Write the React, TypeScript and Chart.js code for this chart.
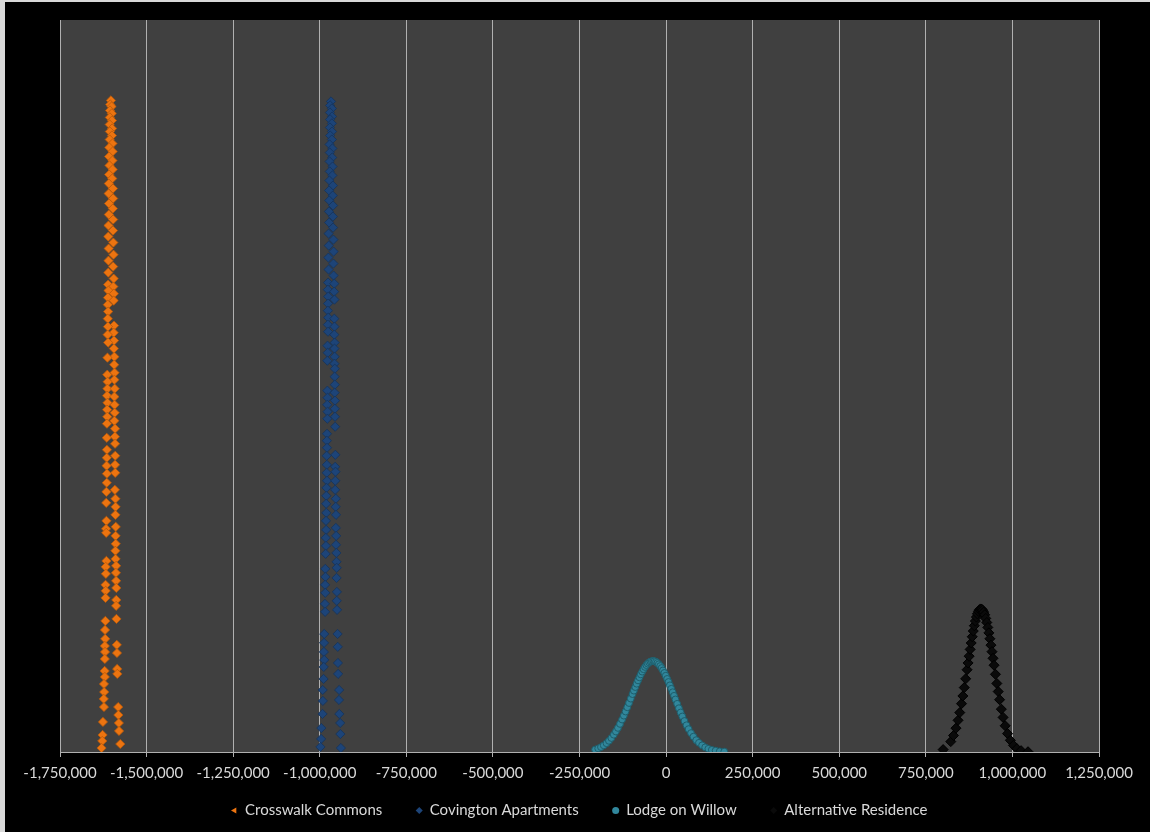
import React, { useEffect, useRef } from "react";
import { Chart, registerables } from "chart.js";

Chart.register(...registerables);

// x: value, y: density (×10⁻⁶)
const seriesNames = ["Crosswalk Commons", "Covington Apartments", "Lodge on Willow", "Alternative Residence"];

const xTickMin = -1750000;
const xTickMax = 1250000;
const xTickStep = 250000;
const yMax = 55;

const crosswalkCommons: [number, number][] = [
  [-1603000, 48.96], [-1605000, 48.65], [-1601000, 48.5], [-1605500, 48.2], [-1600500, 47.98],
  [-1606000, 47.68], [-1600000, 47.45], [-1606500, 47.15], [-1599500, 46.85], [-1606000, 46.62],
  [-1600000, 46.32], [-1606500, 46.02], [-1598500, 45.72], [-1607500, 45.42], [-1598000, 45.12],
  [-1608000, 44.74], [-1598500, 44.44], [-1607000, 44.07], [-1598000, 43.77], [-1608000, 43.39],
  [-1599000, 43.09], [-1609000, 42.71], [-1597000, 42.34], [-1609500, 41.96], [-1596500, 41.59],
  [-1608500, 41.21], [-1597500, 40.83], [-1609000, 40.38], [-1596500, 40.01], [-1610000, 39.56],
  [-1597000, 39.18], [-1610500, 38.73], [-1596000, 38.28], [-1609500, 37.83], [-1595500, 37.37],
  [-1610000, 36.92], [-1596500, 36.47], [-1610500, 36.02], [-1595000, 35.57], [-1611000, 35.12],
  [-1596000, 34.97], [-1610000, 34.67], [-1594500, 34.44], [-1611500, 34.14], [-1595000, 33.92],
  [-1612000, 33.61], [-1611000, 33.09], [-1612000, 32.56], [-1594000, 32.04], [-1611500, 31.96],
  [-1595000, 31.51], [-1612500, 31.36], [-1594000, 30.91], [-1611000, 30.76], [-1594500, 30.31],
  [-1593000, 29.7], [-1613000, 29.63], [-1593500, 29.1], [-1592500, 28.5], [-1613500, 28.35],
  [-1593000, 27.97], [-1612500, 27.82], [-1613000, 27.3], [-1592000, 27.3], [-1614000, 26.77],
  [-1593000, 26.7], [-1613000, 26.24], [-1592500, 26.09], [-1614000, 25.72], [-1592000, 25.49],
  [-1613500, 25.19], [-1593000, 24.89], [-1614500, 24.67], [-1591000, 24.29], [-1591500, 23.69],
  [-1615000, 23.61], [-1591000, 23.16], [-1614500, 22.71], [-1590500, 22.26], [-1615000, 22.11],
  [-1591000, 21.58], [-1615500, 21.51], [-1590500, 20.98], [-1614500, 20.91], [-1615000, 20.23],
  [-1591500, 19.7], [-1616000, 19.55], [-1590000, 19.03], [-1616500, 18.72], [-1589500, 18.42],
  [-1590000, 17.82], [-1616000, 17.37], [-1589000, 16.92], [-1617000, 16.77], [-1616500, 16.47],
  [-1589500, 16.24], [-1589000, 15.64], [-1590000, 15.12], [-1589500, 14.51], [-1616000, 14.36],
  [-1588000, 13.99], [-1618000, 13.91], [-1588500, 13.46], [-1617500, 13.39], [-1588000, 12.86],
  [-1618500, 12.56], [-1587500, 12.33], [-1618000, 12.11], [-1618500, 11.58], [-1587500, 11.43],
  [-1588000, 10.98], [-1587000, 10.0], [-1619000, 9.85], [-1620000, 9.17], [-1619500, 8.5],
  [-1586000, 8.05], [-1620500, 7.97], [-1620000, 7.52], [-1585500, 7.44], [-1620500, 6.99],
  [-1585000, 6.24], [-1621000, 6.09], [-1584500, 5.87], [-1620500, 5.64], [-1623000, 5.11],
  [-1622500, 4.51], [-1623500, 3.99], [-1623000, 3.38], [-1582000, 3.38], [-1581500, 2.78],
  [-1626000, 2.26], [-1580000, 2.18], [-1579500, 1.58], [-1627000, 1.28], [-1628000, 0.83],
  [-1576000, 0.6], [-1630000, 0.3],
];

const covingtonApartments: [number, number][] = [
  [-967500, 48.88], [-970000, 48.58], [-965000, 48.35], [-970500, 48.05], [-964500, 47.75],
  [-970000, 47.53], [-965000, 47.23], [-970500, 46.92], [-964500, 46.62], [-970000, 46.32],
  [-965000, 46.02], [-971500, 45.65], [-963500, 45.35], [-971000, 45.04], [-964000, 44.67],
  [-971500, 44.37], [-963000, 43.99], [-971000, 43.62], [-963500, 43.32], [-972000, 42.94],
  [-962000, 42.56], [-973000, 42.19], [-962500, 41.81], [-972500, 41.44], [-961500, 41.06],
  [-973500, 40.61], [-962000, 40.23], [-973000, 39.78], [-961500, 39.4], [-974500, 38.95],
  [-960500, 38.5], [-974000, 38.05], [-960000, 37.6], [-975000, 37.15], [-960500, 36.7],
  [-974500, 36.25], [-960000, 35.8], [-976000, 35.27], [-958000, 35.19], [-976500, 34.74],
  [-958500, 34.59], [-975500, 34.22], [-957500, 33.99], [-976000, 33.69], [-976500, 33.16],
  [-975500, 32.64], [-958000, 32.56], [-976500, 32.11], [-957500, 31.96], [-976000, 31.58],
  [-958000, 31.36], [-957000, 30.76], [-977500, 30.53], [-957500, 30.31], [-977000, 30.0],
  [-957000, 29.7], [-978000, 29.4], [-957500, 29.18], [-956500, 28.8], [-957000, 28.2],
  [-956500, 27.6], [-978000, 27.15], [-957000, 27.0], [-977500, 26.62], [-956000, 26.4],
  [-978500, 26.09], [-956500, 25.79], [-977500, 25.57], [-956000, 25.19], [-978000, 25.04],
  [-955500, 24.44], [-979000, 23.91], [-979500, 23.39], [-979000, 22.86], [-955000, 22.33],
  [-980000, 22.26], [-979500, 21.58], [-955500, 21.43], [-954500, 21.06], [-980000, 20.98],
  [-979000, 20.38], [-955000, 20.38], [-980500, 19.85], [-955500, 19.7], [-981000, 19.25],
  [-953500, 19.03], [-981500, 18.65], [-954000, 18.42], [-981000, 17.97], [-953000, 17.82],
  [-982000, 17.37], [-953500, 16.84], [-981500, 16.69], [-952500, 16.24], [-982500, 16.09],
  [-953000, 15.57], [-982000, 15.49], [-952000, 14.96], [-983000, 14.89], [-951500, 14.29],
  [-951000, 13.84], [-984000, 13.76], [-983500, 13.16], [-951500, 13.08], [-984500, 12.56],
  [-950500, 12.03], [-984000, 11.96], [-951000, 11.36], [-985000, 11.13], [-950000, 10.68],
  [-984500, 10.53], [-987000, 8.87], [-948500, 8.87], [-987500, 8.2], [-948000, 7.9],
  [-988000, 7.52], [-987000, 6.92], [-947500, 6.69], [-988500, 6.39], [-947000, 5.87],
  [-989000, 5.49], [-991500, 4.66], [-944000, 4.66], [-944500, 3.91], [-991000, 3.84],
  [-992000, 2.86], [-943500, 2.86], [-941000, 2.18], [-995500, 1.8], [-940500, 1.35],
  [-996000, 0.98], [-998000, 0.38], [-939000, 0.3],
];

const lodgeOnWillow: [number, number][] = [
  [-205000, 0.18], [-196000, 0.27], [-188000, 0.37], [-180000, 0.5], [-172000, 0.66],
  [-165000, 0.84], [-158000, 1.05], [-151000, 1.3], [-145000, 1.54], [-139000, 1.81],
  [-133000, 2.11], [-127000, 2.44], [-122000, 2.73], [-117000, 3.04], [-112000, 3.36],
  [-107000, 3.68], [-102000, 4.01], [-97000, 4.35], [-93000, 4.61], [-89000, 4.88],
  [-85000, 5.13], [-81000, 5.38], [-77000, 5.61], [-73000, 5.83], [-69000, 6.04],
  [-65000, 6.22], [-61000, 6.39], [-57000, 6.53], [-53000, 6.64], [-49000, 6.73],
  [-45000, 6.8], [-41000, 6.83], [-37000, 6.84], [-33000, 6.82], [-29000, 6.77],
  [-25000, 6.69], [-21000, 6.59], [-17000, 6.46], [-13000, 6.31], [-9000, 6.13],
  [-5000, 5.94], [-1000, 5.73], [3000, 5.49], [7000, 5.26], [11000, 5.01],
  [15000, 4.75], [19000, 4.49], [23000, 4.22], [27000, 3.95], [32000, 3.62],
  [37000, 3.29], [42000, 2.97], [47000, 2.67], [53000, 2.33], [59000, 2.01],
  [65000, 1.72], [72000, 1.42], [79000, 1.15], [87000, 0.89], [95000, 0.69],
  [104000, 0.5], [113000, 0.35], [122000, 0.24], [132000, 0.16], [143000, 0.1],
  [155000, 0.05], [168000, 0.03],
];

const alternativeResidence: [number, number][] = [
  [800000, 0.18], [822000, 0.78], [830000, 1.24], [837000, 1.79], [843000, 2.38],
  [848000, 2.96], [853000, 3.63], [857000, 4.21], [861000, 4.84], [865000, 5.5],
  [869000, 6.18], [872000, 6.69], [875000, 7.2], [878000, 7.71], [881000, 8.19],
  [884000, 8.66], [887000, 9.09], [890000, 9.49], [893000, 9.84], [896000, 10.14],
  [899000, 10.38], [902000, 10.57], [905000, 10.69], [908000, 10.75], [911000, 10.74],
  [914000, 10.66], [917000, 10.51], [920000, 10.31], [923000, 10.04], [926000, 9.73],
  [929000, 9.36], [932000, 8.95], [935000, 8.51], [938000, 8.03], [941000, 7.54],
  [944000, 7.04], [947000, 6.52], [951000, 5.84], [955000, 5.15], [959000, 4.54],
  [963000, 3.93], [968000, 3.22], [973000, 2.6], [979000, 1.97], [986000, 1.38],
  [994000, 0.88], [1003000, 0.5], [1013000, 0.25], [1025000, 0.1], [1045000, 0.02],
];

const FONT = "Lato";
const TEXT_COLOR = "#d9d9d9";
const GRID_COLOR = "#b0b0b0";

const toPoints = (arr: [number, number][]) => arr.map(([x, y]) => ({ x, y }));

const bgPlugin = {
  id: "bgPlugin",
  afterLayout(chart: any) {
    const lg = chart.legend;
    if (lg) {
      lg.top -= 20;
      lg.bottom = chart.height;
      lg.height = lg.bottom - lg.top;
    }
  },
  beforeDraw(chart: any) {
    const { ctx, chartArea } = chart;
    ctx.save();
    ctx.fillStyle = "#000000";
    ctx.fillRect(0, 0, chart.width, chart.height);
    ctx.fillStyle = "#404040";
    ctx.fillRect(chartArea.left, chartArea.top, chartArea.right - chartArea.left, chartArea.bottom - chartArea.top);
    ctx.restore();
  },
};

export default function App() {
  const ref = useRef<HTMLCanvasElement>(null);

  useEffect(() => {
    if (!ref.current) return;
    const chart = new Chart(ref.current, {
      type: "scatter",
      data: {
        datasets: [
          {
            label: seriesNames[0],
            data: toPoints(crosswalkCommons),
            pointStyle: "rectRot",
            pointRadius: 4.6,
            backgroundColor: "#EC7410",
            borderColor: "#B8590A",
            borderWidth: 0.8,
          },
          {
            label: seriesNames[1],
            data: toPoints(covingtonApartments),
            pointStyle: "rectRot",
            pointRadius: 4.6,
            backgroundColor: "#1D4478",
            borderColor: "#15335B",
            borderWidth: 0.8,
          },
          {
            label: seriesNames[2],
            data: toPoints(lodgeOnWillow),
            pointStyle: "circle",
            pointRadius: 3.4,
            backgroundColor: "#31879C",
            borderColor: "#1E5E6C",
            borderWidth: 1,
          },
          {
            label: seriesNames[3],
            data: toPoints(alternativeResidence),
            pointStyle: "rectRot",
            pointRadius: 5,
            backgroundColor: "#0a0a0a",
            borderColor: "#000000",
            borderWidth: 1,
          },
        ],
      },
      options: {
        responsive: false,
        animation: false,
        devicePixelRatio: 1,
        layout: { padding: { left: 55, right: 51, top: 18, bottom: 0 } },
        scales: {
          x: {
            type: "linear",
            min: xTickMin,
            max: xTickMax,
            ticks: {
              stepSize: xTickStep,
              color: TEXT_COLOR,
              padding: 7,
              maxRotation: 0,
              font: { family: FONT, size: 15 },
              callback: (v: any) => Number(v).toLocaleString("en-US"),
            },
            grid: { color: GRID_COLOR, lineWidth: 1, tickLength: 5, drawTicks: true },
            border: { display: true, color: GRID_COLOR },
          },
          y: {
            display: false,
            min: 0,
            max: yMax,
          },
        },
        plugins: {
          tooltip: { enabled: false },
          legend: {
            position: "bottom",
            maxHeight: 43,
            labels: {
              color: TEXT_COLOR,
              font: { family: FONT, size: 15 },
              usePointStyle: true,
              boxWidth: 6,
              boxHeight: 5,
              padding: 34,
              generateLabels: (c: any) => {
                const items = (Chart.defaults.plugins.legend.labels as any).generateLabels(c);
                items.forEach((it: any, i: number) => {
                  if (i === 0) {
                    it.pointStyle = "triangle";
                    it.rotation = -90;
                  }
                  it.lineWidth = 0;
                  it.fontColor = TEXT_COLOR;
                });
                return items;
              },
            },
          },
        },
      },
      plugins: [bgPlugin],
    } as any);
    return () => chart.destroy();
  }, []);

  return (
    <div style={{ position: "fixed", left: 0, top: 0, width: 1150, height: 832, background: "#d9d9d9" }}>
      <div style={{ position: "absolute", left: 5, top: 2, width: 1145, height: 830, background: "#000" }}>
        <canvas ref={ref} width={1145} height={830} style={{ display: "block", width: 1145, height: 830 }} />
      </div>
    </div>
  );
}
